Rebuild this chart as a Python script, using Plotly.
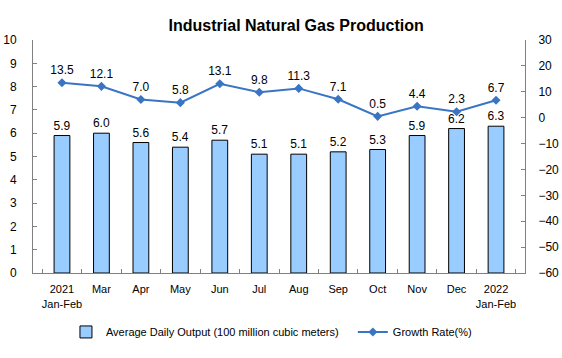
import plotly.graph_objects as go

categories = ["2021<br>Jan-Feb", "Mar", "Apr", "May", "Jun", "Jul", "Aug", "Sep", "Oct", "Nov", "Dec", "2022<br>Jan-Feb"]
daily_output = [5.9, 6.0, 5.6, 5.4, 5.7, 5.1, 5.1, 5.2, 5.3, 5.9, 6.2, 6.3]
growth_rate = [13.5, 12.1, 7.0, 5.8, 13.1, 9.8, 11.3, 7.1, 0.5, 4.4, 2.3, 6.7]

font_family = "Liberation Sans, Arial, sans-serif"

fig = go.Figure()
fig.add_trace(go.Bar(
    x=categories, y=daily_output,
    name="Average Daily Output (100 million cubic meters)\u00a0\u00a0\u00a0",
    marker=dict(color="#99CCFF", line=dict(color="#000000", width=1)),
    width=0.4,
    text=[f"{v:.1f}" for v in daily_output], textposition="outside",
    textfont=dict(size=12, color="#000000", family=font_family),
    constraintext="none",
    cliponaxis=False,
))
fig.add_trace(go.Scatter(
    x=categories, y=growth_rate, yaxis="y2",
    name="Growth Rate(%)",
    mode="lines+markers+text",
    line=dict(color="#3A75C4", width=2),
    marker=dict(symbol="diamond", size=7, color="#3A75C4"),
    text=[f"{v:.1f}" for v in growth_rate], textposition="top center",
    textfont=dict(size=12, color="#000000", family=font_family),
    cliponaxis=False,
))

fig.update_layout(
    width=562, height=358,
    margin=dict(l=33, r=37, t=40, b=85, autoexpand=False),
    paper_bgcolor="white", plot_bgcolor="white",
    font=dict(family=font_family, size=12, color="#000000"),
    title=dict(text="<b>Industrial Natural Gas Production</b>", x=0.527, xanchor="center",
               y=0.93, yanchor="middle", font=dict(size=16, family=font_family)),
    bargap=0.6,
    showlegend=True,
    legend=dict(orientation="h", x=0.067, xanchor="left", y=-0.253, yanchor="middle",
                font=dict(size=11), bgcolor="rgba(0,0,0,0)",
                traceorder="normal"),
    xaxis=dict(showline=True, linecolor="#808080", ticks="inside", ticklen=4,
               tickcolor="#808080", tickson="boundaries", showgrid=False,
               automargin=False,
               tickangle=0, ticklabelstandoff=6, tickfont=dict(size=11)),
    yaxis=dict(range=[0, 10], dtick=1, showline=True, linecolor="#808080",
               ticks="inside", ticklen=4, tickcolor="#808080", showgrid=False,
               automargin=False,
               zeroline=False, ticklabelstandoff=13, tickfont=dict(size=12)),
    yaxis2=dict(range=[-60, 30], dtick=10, overlaying="y", side="right",
                showline=True, linecolor="#808080", ticks="inside", ticklen=4,
                tickcolor="#808080", showgrid=False, zeroline=False,
                automargin=False,
                ticklabelstandoff=10, tickfont=dict(size=12)),
)

fig.write_html("out.html", config={"displayModeBar": False},
               post_script="document.body.style.margin='0px';")
